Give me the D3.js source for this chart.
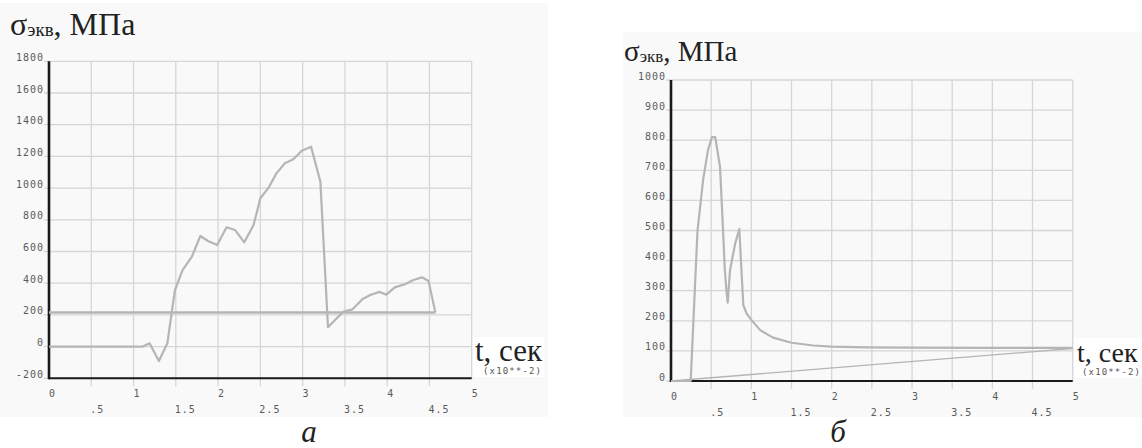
<html lang="ru">
  <head>
    <meta charset="utf-8" />
    <title>σэкв(t)</title>
    <script src="https://d3js.org/d3.v7.min.js"></script>
    <style>
      body { margin: 0; background: #ffffff; }
    </style>
  </head>
  <body>
    <div id="svgContainer"></div>
  </body>
  <script>
    // ---- data (t in 10^-2 s, stress in MPa) ----
    var xTickMain = ["0", "1", "2", "3", "4", "5"];          // integer row of x labels
    var xTickHalf = [".5", "1.5", "2.5", "3.5", "4.5"];      // second row of x labels
    var yTicksA = [-200, 0, 200, 400, 600, 800, 1000, 1200, 1400, 1600, 1800];
    var yTicksB = [0, 100, 200, 300, 400, 500, 600, 700, 800, 900, 1000];

    // panel a : equivalent stress
    var aT = [0, 1.11, 1.19, 1.30, 1.40, 1.45, 1.49, 1.58, 1.69, 1.79, 1.88, 1.99, 2.10, 2.20, 2.31, 2.42,
              2.50, 2.60, 2.69, 2.79, 2.89, 2.99, 3.10, 3.21, 3.30, 3.48, 3.59, 3.71, 3.80, 3.91, 3.99,
              4.09, 4.21, 4.31, 4.41, 4.49, 4.57];
    var aV = [0, 0, 21, -91, 21, 210, 357, 483, 567, 698, 666, 641, 753, 736, 658, 767,
              936, 1005, 1093, 1157, 1182, 1236, 1261, 1040, 122, 220, 235, 300, 326, 345, 328,
              374, 393, 420, 437, 414, 216];
    // panel a : horizontal reference level
    var aLimitT = [0, 4.57];
    var aLimitV = [215, 215];

    // panel b : equivalent stress
    var bT = [0, 0.245, 0.33, 0.40, 0.46, 0.51, 0.55, 0.61, 0.64, 0.67, 0.69, 0.706, 0.735, 0.80, 0.85,
              0.90, 0.94, 1.0, 1.11, 1.27, 1.5, 1.77, 2.0, 2.44, 3.0, 4.0, 5.0];
    var bV = [0, 0, 500, 668, 767, 810, 810, 712, 546, 369, 300, 260, 369, 458, 505,
              252, 225, 203, 169, 144, 127, 118, 114, 112, 111, 110, 110];
    // panel b : linear reference line
    var bLineT = [0, 5];
    var bLineV = [0, 108];

    var width = 1142,
        height = 448;
    var serif = "'Liberation Serif', 'Times New Roman', 'DejaVu Serif', serif",
        mono = "'DejaVu Sans Mono', 'Liberation Mono', monospace";

    var svg = d3.select("#svgContainer")
                .append("svg")
                .attr("width", width)
                .attr("height", height);

    var panels = [
      {bg: [0, 3, 548, 414], x: [49, 471.7], y: [378.3, 61.3], yDomain: [-200, 1800], yTicks: yTicksA,
       axisY: -200, titleX: 10, titleY: 35, titleSize: 32, subSize: 19,
       tX: 475, tY: 361, tSize: 31, unitX: 483, captionX: 309, caption: "а",
       series: [
         {t: aLimitT, v: aLimitV, width: 2.6},
         {t: aT, v: aV, width: 2.2}
       ]},
      {bg: [623, 32, 519, 385], x: [671, 1072.7], y: [381, 80], yDomain: [0, 1000], yTicks: yTicksB,
       axisY: 0, titleX: 624, titleY: 61, titleSize: 29, subSize: 17,
       tX: 1077, tY: 362, tSize: 28, unitX: 1082, captionX: 838, caption: "б",
       series: [
         {t: bLineT, v: bLineV, width: 1.4},
         {t: bT, v: bV, width: 2.2}
       ]}
    ];

    panels.forEach(drawPanel);

    function tickText(sel) {
      sel.attr("font-family", mono)
         .attr("font-size", 10)
         .attr("letter-spacing", 1)
         .attr("fill", "#5a5a5a");
    }

    function drawPanel(p) {
      var x = d3.scaleLinear().domain([0, 5]).range(p.x);
      var y = d3.scaleLinear().domain(p.yDomain).range(p.y);
      var g = svg.append("g");

      // light panel background
      g.append("rect")
       .attr("x", p.bg[0]).attr("y", p.bg[1])
       .attr("width", p.bg[2]).attr("height", p.bg[3])
       .attr("fill", "#f9f9f9");

      // white box behind axis name
      g.append("rect")
       .attr("x", p.tX - 3).attr("y", p.tY - 24)
       .attr("width", 72).attr("height", 40)
       .attr("fill", "#ffffff");

      // horizontal grid
      g.selectAll("line.hgrid")
       .data(p.yTicks)
       .enter().append("line")
       .attr("class", "hgrid")
       .attr("x1", x(0) - 5).attr("x2", x(5))
       .attr("y1", function(d) { return y(d); })
       .attr("y2", function(d) { return y(d); })
       .attr("stroke", "#d6d6d6")
       .attr("stroke-width", 1.3);

      // vertical grid (every 0.5)
      var vTicks = d3.range(1, 11).map(function(i) { return i / 2; });
      g.selectAll("line.vgrid")
       .data(vTicks)
       .enter().append("line")
       .attr("class", "vgrid")
       .attr("x1", function(d) { return x(d); })
       .attr("x2", function(d) { return x(d); })
       .attr("y1", y(p.yDomain[1]))
       .attr("y2", function(d) { return d === 5 ? y(p.axisY) : y(p.axisY) + 8; })
       .attr("stroke", "#d6d6d6")
       .attr("stroke-width", 1.3);

      // axes
      g.append("line")
       .attr("x1", x(0)).attr("x2", x(0))
       .attr("y1", y(p.yDomain[1])).attr("y2", y(p.axisY) + 1)
       .attr("stroke", "#1a1a1a").attr("stroke-width", 2.6);
      g.append("line")
       .attr("x1", x(0)).attr("x2", x(5))
       .attr("y1", y(p.axisY)).attr("y2", y(p.axisY))
       .attr("stroke", "#1a1a1a").attr("stroke-width", 2);

      // y labels
      g.selectAll("text.ylab")
       .data(p.yTicks)
       .enter().append("text")
       .call(tickText)
       .attr("x", x(0) - 5)
       .attr("y", function(d) { return y(d) - 0.5; })
       .attr("text-anchor", "end")
       .text(function(d) { return d; });

      // x labels, two rows
      g.selectAll("text.xmain")
       .data(xTickMain)
       .enter().append("text")
       .call(tickText)
       .attr("x", function(d) { return x(+d); })
       .attr("y", y(p.axisY) + 19)
       .text(function(d) { return d; });
      g.selectAll("text.xhalf")
       .data(xTickHalf)
       .enter().append("text")
       .call(tickText)
       .attr("x", function(d) { return x(+d) - 1; })
       .attr("y", y(p.axisY) + 35)
       .text(function(d) { return d; });

      // curves
      var line = d3.line()
                   .x(function(d) { return x(d[0]); })
                   .y(function(d) { return y(d[1]); });
      p.series.forEach(function(s) {
        g.append("path")
         .attr("d", line(d3.zip(s.t, s.v)))
         .attr("fill", "none")
         .attr("stroke", "#b5b5b5")
         .attr("stroke-width", s.width)
         .attr("stroke-linejoin", "round");
      });

      // title σэкв, МПа
      var title = g.append("text")
                   .attr("font-family", serif)
                   .attr("fill", "#222")
                   .attr("x", p.titleX)
                   .attr("y", p.titleY)
                   .attr("font-size", p.titleSize);
      title.append("tspan").text("σ");
      title.append("tspan").attr("font-size", p.subSize).attr("dy", 1).text("экв");
      title.append("tspan").attr("dy", -1).text(", МПа");

      // axis name
      g.append("text")
       .attr("font-family", serif)
       .attr("fill", "#222")
       .attr("x", p.tX).attr("y", p.tY)
       .attr("font-size", p.tSize)
       .text("t, сек");
      g.append("text")
       .attr("font-family", mono)
       .attr("fill", "#555")
       .attr("font-size", 9)
       .attr("x", p.unitX).attr("y", p.tY + 13)
       .attr("textLength", 58)
       .attr("lengthAdjust", "spacing")
       .text("(x10**-2)");

      // caption
      g.append("text")
       .attr("font-family", serif)
       .attr("font-style", "italic")
       .attr("font-size", 31)
       .attr("fill", "#222")
       .attr("x", p.captionX)
       .attr("y", 442)
       .attr("text-anchor", "middle")
       .text(p.caption);
    }
  </script>
</html>
